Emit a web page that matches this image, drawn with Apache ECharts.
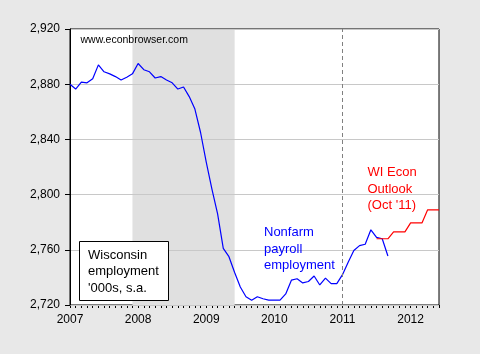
<!DOCTYPE html>
<html>
<head>
<meta charset="utf-8">
<script src="https://cdn.jsdelivr.net/npm/echarts@6/dist/echarts.min.js"></script>
<style>
  html, body { margin: 0; padding: 0; background: #e8e8e8; }
  #chart { width: 480px; height: 354px; }
</style>
</head>
<body>
<div id="chart"></div>
<script>
// monthly categories, 2007-01 .. 2012-06
const months = []
for (let y = 2007; y <= 2012; y++) {
  for (let m = 1; m <= 12; m++) {
    if (y === 2012 && m > 6) break
    months.push(y + '-' + String(m).padStart(2, '0'))
  }
}

// Wisconsin nonfarm payroll employment, '000s s.a., 2007-01 .. 2011-09
const payroll = [
  2880, 2876.5, 2881.5, 2881, 2884, 2894, 2889, 2887.5, 2885.5, 2883, 2885, 2887.5,
  2895, 2890.5, 2889, 2884.5, 2885.5, 2883, 2881, 2876.5, 2878, 2871, 2862, 2845,
  2823.5, 2804, 2786, 2761, 2755, 2743.5, 2733, 2726, 2723.5, 2726, 2724.5, 2723.5,
  2723.5, 2723.5, 2728, 2738, 2739, 2736, 2737, 2741, 2734.5, 2739.5, 2735.5, 2735.5,
  2742, 2751, 2759.5, 2763, 2764, 2774.5, 2769, 2768, 2755.5
]

// WI Econ Outlook (Oct '11) forecast, 2011-07 .. 2012-06
const outlookStart = '2011-07'
const outlook = [2768, 2768, 2768, 2773, 2773, 2773, 2779.5, 2779.5, 2779.5, 2789, 2789, 2789]

const recession = ['2007-12', '2009-06']
const markerMonth = '2011-01'
const yTicks = { min: 2720, max: 2920, interval: 40 }

const payrollData = months.map((_, i) => (i < payroll.length ? payroll[i] : null))
const startIdx = months.indexOf(outlookStart)
const outlookData = months.map((_, i) => (i >= startIdx ? outlook[i - startIdx] : null))

const FONT = '"Liberation Sans", Arial, sans-serif'

const chart = echarts.init(document.getElementById('chart'), null, { renderer: 'canvas' })

chart.setOption({
  backgroundColor: '#e8e8e8',
  animation: false,
  textStyle: { fontFamily: FONT },
  grid: {
    left: 70,
    right: 41,
    top: 29,
    bottom: 49,
    show: true,
    backgroundColor: '#ffffff',
    borderColor: '#000000',
    borderWidth: 1,
  },
  xAxis: {
    type: 'category',
    data: months,
    boundaryGap: false,
    axisLine: { lineStyle: { color: '#000', width: 1 } },
    axisTick: { interval: 0, length: 3, lineStyle: { color: '#000' } },
    axisLabel: {
      interval: (idx) => idx % 12 === 0,
      formatter: (v) => v.slice(0, 4),
      color: '#000',
      fontSize: 12,
      fontFamily: FONT,
      margin: 9,
    },
    splitLine: { show: false },
  },
  yAxis: {
    type: 'value',
    min: yTicks.min,
    max: yTicks.max,
    interval: yTicks.interval,
    z: 2,
    axisLine: { show: true, lineStyle: { color: '#000', width: 1 } },
    axisTick: { show: true, length: 5, lineStyle: { color: '#000' } },
    axisLabel: {
      formatter: (v) => v.toLocaleString('en-US'),
      color: '#000',
      fontSize: 12,
      fontFamily: FONT,
      margin: 10,
    },
    splitLine: { lineStyle: { color: '#c8c8c8', width: 1 } },
  },
  series: [
    {
      name: 'recession',
      type: 'line',
      data: [],
      z: 1,
      silent: true,
      markArea: {
        silent: true,
        itemStyle: { color: '#e0e0e0' },
        data: [[{ xAxis: recession[0] }, { xAxis: recession[1] }]],
      },
    },
    {
      name: 'Nonfarm payroll employment',
      type: 'line',
      data: payrollData,
      z: 3,
      showSymbol: false,
      symbol: 'none',
      lineStyle: { color: '#0000ff', width: 1.2 },
      markLine: {
        silent: true,
        symbol: 'none',
        label: { show: false },
        lineStyle: { color: '#808080', type: [4, 3], width: 1 },
        data: [{ xAxis: markerMonth }],
      },
    },
    {
      name: 'WI Econ Outlook',
      type: 'line',
      data: outlookData,
      z: 3,
      showSymbol: false,
      symbol: 'none',
      lineStyle: { color: '#ff0000', width: 1.2 },
    },
  ],
  graphic: [
    {
      type: 'text', x: 80.5, y: 40, z: 10,
      style: { text: 'www.econbrowser.com', font: '10.5px ' + FONT, fill: '#000', verticalAlign: 'middle' },
    },
    {
      type: 'rect', z: 10,
      shape: { x: 79.5, y: 241.5, width: 89, height: 59 },
      style: { fill: '#fff', stroke: '#000', lineWidth: 1 },
    },
    {
      type: 'text', x: 88, y: 271.7, z: 11,
      style: {
        text: "Wisconsin\nemployment\n'000s, s.a.",
        font: '13px ' + FONT, fill: '#000', lineHeight: 16.7, verticalAlign: 'middle',
      },
    },
    {
      type: 'text', x: 264, y: 249, z: 10,
      style: {
        text: 'Nonfarm\npayroll\nemployment',
        font: '13px ' + FONT, fill: '#0000ff', lineHeight: 16.7, verticalAlign: 'middle',
      },
    },
    {
      type: 'text', x: 367.5, y: 189, z: 10,
      style: {
        text: "WI Econ\nOutlook\n(Oct '11)",
        font: '13px ' + FONT, fill: '#ff0000', lineHeight: 16.7, verticalAlign: 'middle',
      },
    },
  ],
})
</script>
</body>
</html>
